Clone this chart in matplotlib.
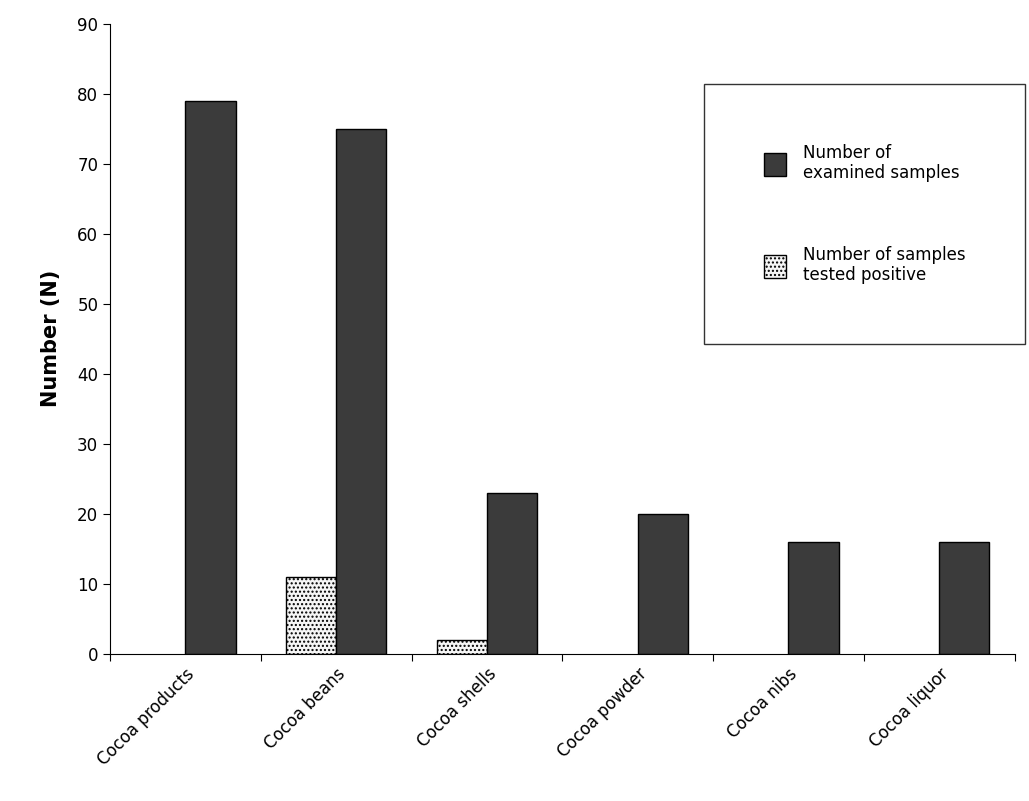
import numpy as np
import matplotlib.pyplot as plt

categories = ["Cocoa products", "Cocoa beans", "Cocoa shells", "Cocoa powder", "Cocoa nibs", "Cocoa liquor"]
examined = [79, 75, 23, 20, 16, 16]
positive = [0, 11, 2, 0, 0, 0]

fig = plt.figure(figsize=(10.29, 8.01), dpi=100)
ax = fig.add_axes([0.107, 0.1835, 0.879, 0.787])

x = np.arange(len(categories))
w = 1 / 3
plt.rcParams['hatch.color'] = '#c8c8c8'
pos = [v if v > 0 else np.nan for v in positive]  # zero bars are not drawn in the original
ax.bar(x - w / 2, pos, w, color='#f6f6f6', edgecolor='black', hatch='....', linewidth=1,
       label='Number of samples\ntested positive')
ax.bar(x + w / 2, examined, w, color='#3b3b3b', edgecolor='black', linewidth=1,
       label='Number of\nexamined samples')

ax.set_xlim(-0.5, len(categories) - 0.5)
ax.set_ylim(0, 90)
ax.set_yticks(range(0, 91, 10))
ax.set_xticks(np.arange(-0.5, len(categories), 1), minor=False)
ax.set_xticklabels([])
ax.set_xticks(x, minor=True)
ax.set_xticklabels(categories, minor=True, rotation=45, ha='right', rotation_mode='anchor', fontsize=12)
ax.tick_params(axis='x', which='minor', length=0, pad=8)
ax.tick_params(axis='both', which='major', direction='out', length=5, labelsize=12)
ax.spines['top'].set_visible(False)
ax.spines['right'].set_visible(False)
ax.set_ylabel('Number (N)', fontsize=15, fontweight='bold', labelpad=12)

h, l = ax.get_legend_handles_labels()
leg = ax.legend(h[::-1], l[::-1], loc='upper right', bbox_to_anchor=(1.012, 0.905), fontsize=12,
                frameon=True, fancybox=False, edgecolor='black', borderpad=3.6,
                labelspacing=3.8, handlelength=1.3, handleheight=1.8, handletextpad=1.0,
                borderaxespad=0)
leg.get_frame().set_linewidth(1)

fig.savefig('out.png', dpi=100)
